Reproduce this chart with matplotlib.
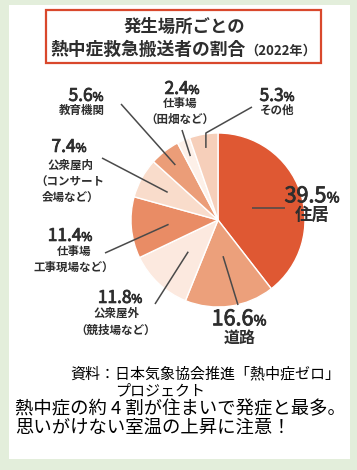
import matplotlib
matplotlib.use("Agg")
import matplotlib.pyplot as plt
from matplotlib.patches import Rectangle
import matplotlib.patheffects as pe
import numpy as np

plt.rcParams['font.family'] = ['Noto Sans CJK JP', 'DejaVu Sans']

# ---- data ----
categories = ["住居", "道路", "公衆屋外（競技場など）", "仕事場（工事現場など）",
              "公衆屋内（コンサート会場など）", "教育機関", "仕事場（田畑など）", "その他"]
values = [39.5, 16.6, 11.8, 11.4, 7.4, 5.6, 2.4, 5.3]
value_labels = ["39.5", "16.6", "11.8", "11.4", "7.4", "5.6", "2.4", "5.3"]
sub_labels = [["住居"], ["道路"], ["公衆屋外", "（競技場など）"], ["仕事場", "工事現場など）"],
              ["公衆屋内", "（コンサート", "会場など）"], ["教育機関"], ["仕事場", "（田畑など）"], ["その他"]]
colors = ["#df5833", "#eca07b", "#fce9df", "#e98c65", "#f9dccb", "#eb9d78", "#fdf0e8", "#f6cfba"]

title1 = "発生場所ごとの"
title2 = "熱中症救急搬送者の割合"
title_year = "（2022年）"
source1 = "資料：日本気象協会推進「熱中症ゼロ」"
source2 = "プロジェクト"
note1 = "熱中症の約 4 割が住まいで発症と最多。"
note2 = "思いがけない室温の上昇に注意！"

W, H = 357, 470
fig = plt.figure(figsize=(W / 100, H / 100), dpi=100)
fig.patch.set_facecolor("#e3eedb")
ax = fig.add_axes([0, 0, 1, 1])

def Y(y):
    return H - y

# white panel
ax.add_patch(Rectangle((9, Y(459)), 341, 454, facecolor="white", edgecolor="none", zorder=0))
# title box
ax.add_patch(Rectangle((46, Y(63)), 275, 53, facecolor="none", edgecolor="#d9482c", lw=1.6, zorder=1))

cx, cy, R = 218, 220, 87
wedges, _ = ax.pie(values, colors=colors, startangle=90, counterclock=False,
                   center=(cx, Y(cy)), radius=R,
                   wedgeprops=dict(edgecolor="white", linewidth=1.0))
ax.set_xlim(0, W)
ax.set_ylim(0, H)
ax.set_aspect("equal")
ax.axis("off")

TXT = "#2e2e2e"
LINE = "#4a4a4a"
medium = [pe.Stroke(linewidth=0.6, foreground=TXT), pe.Normal()]

# leader lines: inner radius fraction and outer end (pixel coords)
inner_frac = [0.41, 0.42, 0.50, 0.57, 0.66, 0.80, 0.80, 0.84]
outer_pt = [(285, None), (238, 305), (155, 304), (105, 253), (102, 158), (121, 104), (182, 130), (252, 107)]
for i, w in enumerate(wedges):
    th = np.deg2rad((w.theta1 + w.theta2) / 2)
    ix = cx + R * inner_frac[i] * np.cos(th)
    iy = Y(cy) + R * inner_frac[i] * np.sin(th)
    ox, oy = outer_pt[i]
    if oy is None:
        xs, ys = [ix, ox], [iy, iy]
    elif i == 7:
        xs, ys = [ix, ix, ox], [iy, Y(133), Y(oy)]
    else:
        xs, ys = [ix, ox], [iy, Y(oy)]
    ax.plot(xs, ys, color=LINE, lw=1.1, solid_capstyle="butt", zorder=3)

fig.canvas.draw()
renderer = fig.canvas.get_renderer()

def mixed(xc, yb, parts, weight="normal", color=TXT, effects=None):
    """parts: list of (text, size); centered at xc, baseline yb (pixel coords)."""
    texts = []
    for s, fs in parts:
        t = ax.text(0, Y(yb), s, fontsize=fs, ha="left", va="baseline",
                    color=color, fontweight=weight, zorder=5)
        if effects:
            t.set_path_effects(effects)
        texts.append(t)
    widths = [t.get_window_extent(renderer).width for t in texts]
    x = xc - sum(widths) / 2
    for t, wd in zip(texts, widths):
        t.set_x(x)
        x += wd

# label layouts: (center x, number center y, sub line ys, number size, pct size, sub size)
layout = [
    (312, 195, [215], 15.5, 10, 12.5),
    (239, 318, [338], 15.5, 10, 11.5),
    (120, 297, [313, 330], 12.5, 8.5, 8.3),
    (70, 235, [251, 267], 12.5, 8.5, 8.3),
    (69, 146, [165, 182, 197], 12.5, 8.5, 8.3),
    (86, 95, [110], 12.5, 8.5, 8.3),
    (182, 88, [103, 119], 12.5, 8.5, 8.3),
    (277, 95, [110], 12.5, 8.5, 8.3),
]
sub_x_shift = [0, 1, -4, 4, 1, -4, -2, 0]
for i, (x, y, ys, big, small, sub) in enumerate(layout):
    mixed(x, y + big * 0.47, [(value_labels[i], big), ("%", small)], weight="normal", effects=medium)
    for s, yy in zip(sub_labels[i], ys):
        ax.text(x + sub_x_shift[i], Y(yy), s, fontsize=sub, ha="center", va="center",
                color=TXT, fontweight="bold", zorder=5)

# title
ax.text(184, Y(27), title1, fontsize=12.5, ha="center", va="center", color=TXT, fontweight="bold")
mixed(183, 55, [(title2, 12.8), (title_year, 9.5)], weight="bold")

# source & note
ax.text(70, Y(374), source1, fontsize=10.8, ha="left", va="center", color="black")
ax.text(115, Y(391), source2, fontsize=10.8, ha="left", va="center", color="black")
ax.text(15, Y(409), note1, fontsize=13.2, ha="left", va="center", color="black")
ax.text(15, Y(428), note2, fontsize=13.2, ha="left", va="center", color="black")

fig.savefig("out.png", dpi=100, facecolor=fig.get_facecolor())
